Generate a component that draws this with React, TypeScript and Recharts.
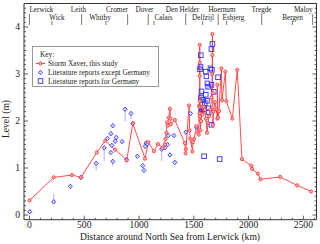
import React from "react";
import {
  ComposedChart,
  ErrorBar,
  Legend,
  Line,
  Scatter,
  XAxis,
  YAxis
} from "recharts";

// Storm Xaver peak levels along the coast (km from Lerwick, level in m)
const stormKm = [0, 221, 388, 470, 615, 691, 782, 888, 943, 1055, 1085, 1136, 1172, 1215, 1235, 1242, 1250, 1256, 1262, 1270, 1282, 1288, 1290, 1327, 1418, 1425, 1428, 1457, 1462, 1468, 1488, 1492, 1503, 1524, 1540, 1545, 1548, 1552, 1554, 1554, 1554, 1554, 1554, 1556, 1560, 1566, 1572, 1580, 1590, 1600, 1610, 1621, 1630, 1639, 1650, 1662, 1668, 1670, 1670, 1672, 1674, 1680, 1691, 1706, 1715, 1715, 1721, 1730, 1752, 1757, 1788, 1797, 1852, 1897, 1939, 2024, 2033, 2085, 2109, 2288, 2443, 2570];
const stormLevel = [0.31, 0.8, 0.85, 0.8, 1.33, 1.58, 1.39, 1.17, 1.95, 1.2, 1.55, 1.36, 1.51, 1.43, 1.5, 1.62, 1.75, 1.97, 1.9, 2.07, 2.26, 2.05, 1.93, 2.02, 1.53, 1.31, 1.4, 2.33, 1.8, 1.62, 1.35, 1.55, 1.62, 1.89, 1.75, 1.71, 2.32, 2.16, 2.3, 2.42, 2.96, 3.24, 3.62, 2.1, 1.8, 2.0, 2.3, 2.14, 2.3, 2.24, 2.05, 1.75, 1.96, 2.1, 2.24, 2.5, 3.0, 3.85, 3.4, 2.6, 1.92, 2.2, 2.4, 2.25, 2.05, 2.77, 2.07, 2.21, 3.12, 2.44, 3.05, 2.42, 2.05, 3.09, 1.19, 1.05, 0.98, 0.88, 0.76, 0.81, 0.63, 0.5];

// literature reports, except Germany
const litKm = [3, 221, 373, 470, 609, 682, 712, 743, 761, 782, 791, 752, 743, 761, 845, 873, 927, 943, 885, 985, 1034, 1045, 1064, 1076, 1055, 1206, 1236, 1261, 1267, 1282, 1318, 1327, 1427, 1470, 1524];
const litLevel = [0.07, 0.28, 0.61, 0.8, 1.1, 1.43, 1.63, 1.73, 1.9, 1.57, 1.65, 1.48, 1.33, 1.14, 1.56, 2.25, 2.16, 1.95, 1.18, 1.25, 1.05, 0.95, 1.53, 1.51, 1.46, 1.4, 1.43, 1.5, 1.69, 1.28, 1.69, 1.12, 1.76, 2.16, 1.87];
const litErrLow = [0, 0, 0, 0.05, 0.15, 0.28, 0, 0, 0, 0, 0, 0, 0, 0.1, 0, 0.25, 0.12, 0, 0.1, 0, 0, 0, 0, 0, 0, 0.25, 0, 0, 0, 0, 0, 0, 0, 0, 0];
const litErrHigh = [0, 0.17, 0, 0.05, 0, 0, 0, 0, 0, 0, 0, 0, 0, 0, 0, 0, 0, 0, 0, 0, 0, 0, 0, 0, 0, 0, 0, 0, 0, 0, 0, 0, 0, 0, 0];

// literature reports for Germany
const gerKm = [1556, 1561, 1564, 1565, 1570, 1570, 1575, 1580, 1585, 1590, 1594, 1600, 1609, 1609, 1615, 1620, 1624, 1630, 1636, 1636, 1652, 1661, 1661, 1661, 1665, 1670, 1682, 1721, 1736];
const gerLevel = [3.1, 3.15, 3.4, 2.5, 2.63, 2.2, 2.35, 2.25, 2.45, 2.28, 1.25, 2.38, 3.05, 2.56, 2.95, 2.43, 2.8, 2.73, 2.27, 2.19, 3.12, 3.53, 2.77, 1.92, 3.09, 3.64, 2.62, 2.93, 1.19];
const gerErr = [0, 0, 0, 0, 0.2, 0, 0, 0, 0, 0, 0, 0, 0, 0, 0, 0, 0.15, 0, 0, 0, 0, 0, 0, 0, 0, 0, 0, 0, 0];

// places along the top
const placeNames = ["Lerwick", "Wick", "Leith", "Whitby", "Cromer", "Dover", "Calais", "Den Helder", "Delfzijl", "Hoernum", "Esbjerg", "Tregde", "Bergen", "Maloy"];
const placeKm = [0, 205, 476, 698, 896, 1084, 1136, 1426, 1580, 1723, 1800, 2120, 2400, 2585];
const labelKm = [0, 251, 447, 644, 799, 1050, 1223, 1397, 1584, 1757, 1862, 2118, 2401, 2585];
const placeRow = [1, 2, 1, 2, 1, 1, 2, 1, 2, 1, 2, 1, 2, 1];

const xMajor = [0, 500, 1000, 1500, 2000, 2500];
const xMinor: number[] = [];
for (let k = 0; k <= 2600; k += 100) xMinor.push(k);
const yMinor: number[] = [];
for (let i = 0; i <= 45; i++) yMinor.push(i / 10);

const stormData = stormKm.map((km, i) => ({ km, level: stormLevel[i] }));
const litData = litKm.map((km, i) => ({ km, level: litLevel[i], err: [litErrLow[i], litErrHigh[i]] }));
const gerData = gerKm.map((km, i) => ({ km, level: gerLevel[i], err: [gerErr[i], 0] }));

const FONT = "'Liberation Serif', 'Times New Roman', serif";
const AXIS = "#333";
const RED = "#ff3a3a";
const BLUE = "#3030ff";
const ERR = "#c8c8f4";

const isMajorY = (v: number) => Math.abs(v - Math.round(v)) < 1e-6;

const LeftTick = (p: any) => {
  const v = p.payload.value;
  const major = isMajorY(v);
  const x0 = p.x + 4;
  return (
    <g>
      <line x1={x0} x2={x0 + (major ? 4 : 2)} y1={p.y} y2={p.y} stroke={AXIS} strokeWidth={0.8} />
      {major && (
        <text x={p.x} y={p.y} dy="0.35em" textAnchor="end" fontSize={9.6} fontFamily={FONT} fill="#222">
          {Math.round(v)}
        </text>
      )}
    </g>
  );
};

const RightTick = (p: any) => {
  const major = isMajorY(p.payload.value);
  return <line x1={p.x} x2={p.x - (major ? 4 : 2)} y1={p.y} y2={p.y} stroke={AXIS} strokeWidth={0.8} />;
};

const BottomTick = (p: any) => {
  const v = p.payload.value;
  const major = xMajor.includes(v);
  return (
    <g>
      <line x1={p.x} x2={p.x} y1={p.y} y2={p.y - (major ? 4 : 2)} stroke={AXIS} strokeWidth={0.8} />
      {major && (
        <text x={p.x} y={p.y + 8.3} textAnchor="middle" fontSize={9.6} fontFamily={FONT} fill="#222">
          {v}
        </text>
      )}
    </g>
  );
};

const PlaceTick = (p: any) => {
  const row = placeRow[p.index];
  return <line x1={p.x} x2={p.x} y1={p.y + (row === 1 ? 10.5 : 17.5)} y2={p.y + 21.5} stroke="#555" strokeWidth={0.8} />;
};

const PlaceLabel = (p: any) => {
  const i = p.index;
  const anchor = i === 0 ? "start" : i === placeNames.length - 1 ? "end" : "middle";
  return (
    <text x={p.x} y={p.y + (placeRow[i] === 1 ? 8 : 16.1)} textAnchor={anchor} fontSize={7.2} fontFamily={FONT} fill="#222">
      {placeNames[i]}
    </text>
  );
};

const StormDot = (p: any) => (
  <circle key={p.index} cx={p.cx} cy={p.cy} r={1.6} stroke={RED} strokeWidth={0.9} fill="#ffb4b4" />
);

const Diamond = (p: any) => (
  <polygon
    points={`${p.cx},${p.cy - 2.2} ${p.cx + 2},${p.cy} ${p.cx},${p.cy + 2.2} ${p.cx - 2},${p.cy}`}
    stroke={BLUE}
    strokeWidth={0.9}
    fill="#dcdcff"
  />
);

const Square = (p: any) => (
  <rect x={p.cx - 2.3} y={p.cy - 2.3} width={4.6} height={4.6} stroke={BLUE} strokeWidth={0.9} fill="none" />
);

const KeyBox = () => (
  <svg width={128} height={42} style={{ display: "block" }}>
    <rect x={0.5} y={0.5} width={126} height={40} fill="#fff" stroke="#999" />
    <text x={8} y={11} fontSize={7.4} fontFamily={FONT} fill="#222">Key:</text>
    <line x1={4} x2={13} y1={17.5} y2={17.5} stroke={RED} />
    <circle cx={8.5} cy={17.5} r={1.6} stroke={RED} strokeWidth={0.9} fill="#ffb4b4" />
    <text x={16} y={20} fontSize={7.4} fontFamily={FONT} fill="#222">Storm Xaver, this study</text>
    <Diamond cx={8.5} cy={26.5} />
    <text x={16} y={29} fontSize={7.4} fontFamily={FONT} fill="#222">Literature reports except Germany</text>
    <Square cx={8.5} cy={35} />
    <text x={16} y={37.5} fontSize={7.4} fontFamily={FONT} fill="#222">Literature reports for Germany</text>
  </svg>
);

export default function App() {
  return (
    <div style={{ position: "absolute", left: 0, top: 0, background: "#fff" }}>
      <ComposedChart width={320} height={244} margin={{ top: 3.48, right: 0, bottom: 0, left: 0 }}>
        <XAxis
          xAxisId={0}
          dataKey="km"
          type="number"
          domain={[-50, 2620]}
          allowDataOverflow
          ticks={xMinor}
          interval={0}
          height={24.3}
          tickSize={0}
          tickMargin={0}
          tick={BottomTick}
          tickLine={false}
          axisLine={{ stroke: AXIS }}
          label={{
            content: () => (
              <text x={170} y={239.5} textAnchor="middle" fontSize={9.6} fontFamily={FONT} fill="#222">
                Distance around North Sea from Lerwick (km)
              </text>
            )
          }}
        />
        <XAxis
          xAxisId="places"
          dataKey="km"
          orientation="top"
          type="number"
          domain={[-50, 2620]}
          allowDataOverflow
          ticks={placeKm}
          interval={0}
          height={0.01}
          tickSize={0}
          tickMargin={0}
          tick={PlaceTick}
          tickLine={false}
          axisLine={{ stroke: AXIS }}
        />
        <XAxis
          xAxisId="placeLabels"
          dataKey="km"
          orientation="top"
          type="number"
          domain={[-50, 2620]}
          allowDataOverflow
          ticks={labelKm}
          interval={0}
          height={0.01}
          tickSize={0}
          tickMargin={0}
          tick={PlaceLabel}
          tickLine={false}
          axisLine={false}
        />
        <YAxis
          yAxisId={0}
          dataKey="level"
          type="number"
          domain={[-0.1, 4.5]}
          allowDataOverflow
          ticks={yMinor}
          interval={0}
          width={24}
          tickSize={0}
          tickMargin={4}
          tick={LeftTick}
          tickLine={false}
          axisLine={{ stroke: AXIS }}
          label={{
            content: () => (
              <text x={9} y={119} transform="rotate(-90 9 119)" textAnchor="middle" fontSize={9.6} fontFamily={FONT} fill="#222">
                Level (m)
              </text>
            )
          }}
        />
        <YAxis
          yAxisId="right"
          orientation="right"
          type="number"
          domain={[-0.1, 4.5]}
          allowDataOverflow
          ticks={yMinor}
          interval={0}
          width={3.5}
          tickSize={0}
          tickMargin={0}
          tick={RightTick}
          tickLine={false}
          axisLine={{ stroke: AXIS }}
        />
        <Legend
          layout="horizontal"
          verticalAlign="middle"
          align="center"
          content={() => <KeyBox />}
          wrapperStyle={{ position: "absolute", left: 32, top: 46, width: 128, height: 42 }}
        />
        <Line
          data={stormData}
          dataKey="level"
          type="linear"
          stroke={RED}
          strokeWidth={0.9}
          dot={StormDot}
          activeDot={false}
          isAnimationActive={false}
        />
        <Scatter data={litData} dataKey="level" shape={Diamond} isAnimationActive={false}>
          <ErrorBar dataKey="err" direction="y" width={0} stroke={ERR} strokeWidth={1.5} />
        </Scatter>
        <Scatter data={gerData} dataKey="level" shape={Square} isAnimationActive={false}>
          <ErrorBar dataKey="err" direction="y" width={0} stroke={ERR} strokeWidth={1.5} />
        </Scatter>
      </ComposedChart>
    </div>
  );
}
